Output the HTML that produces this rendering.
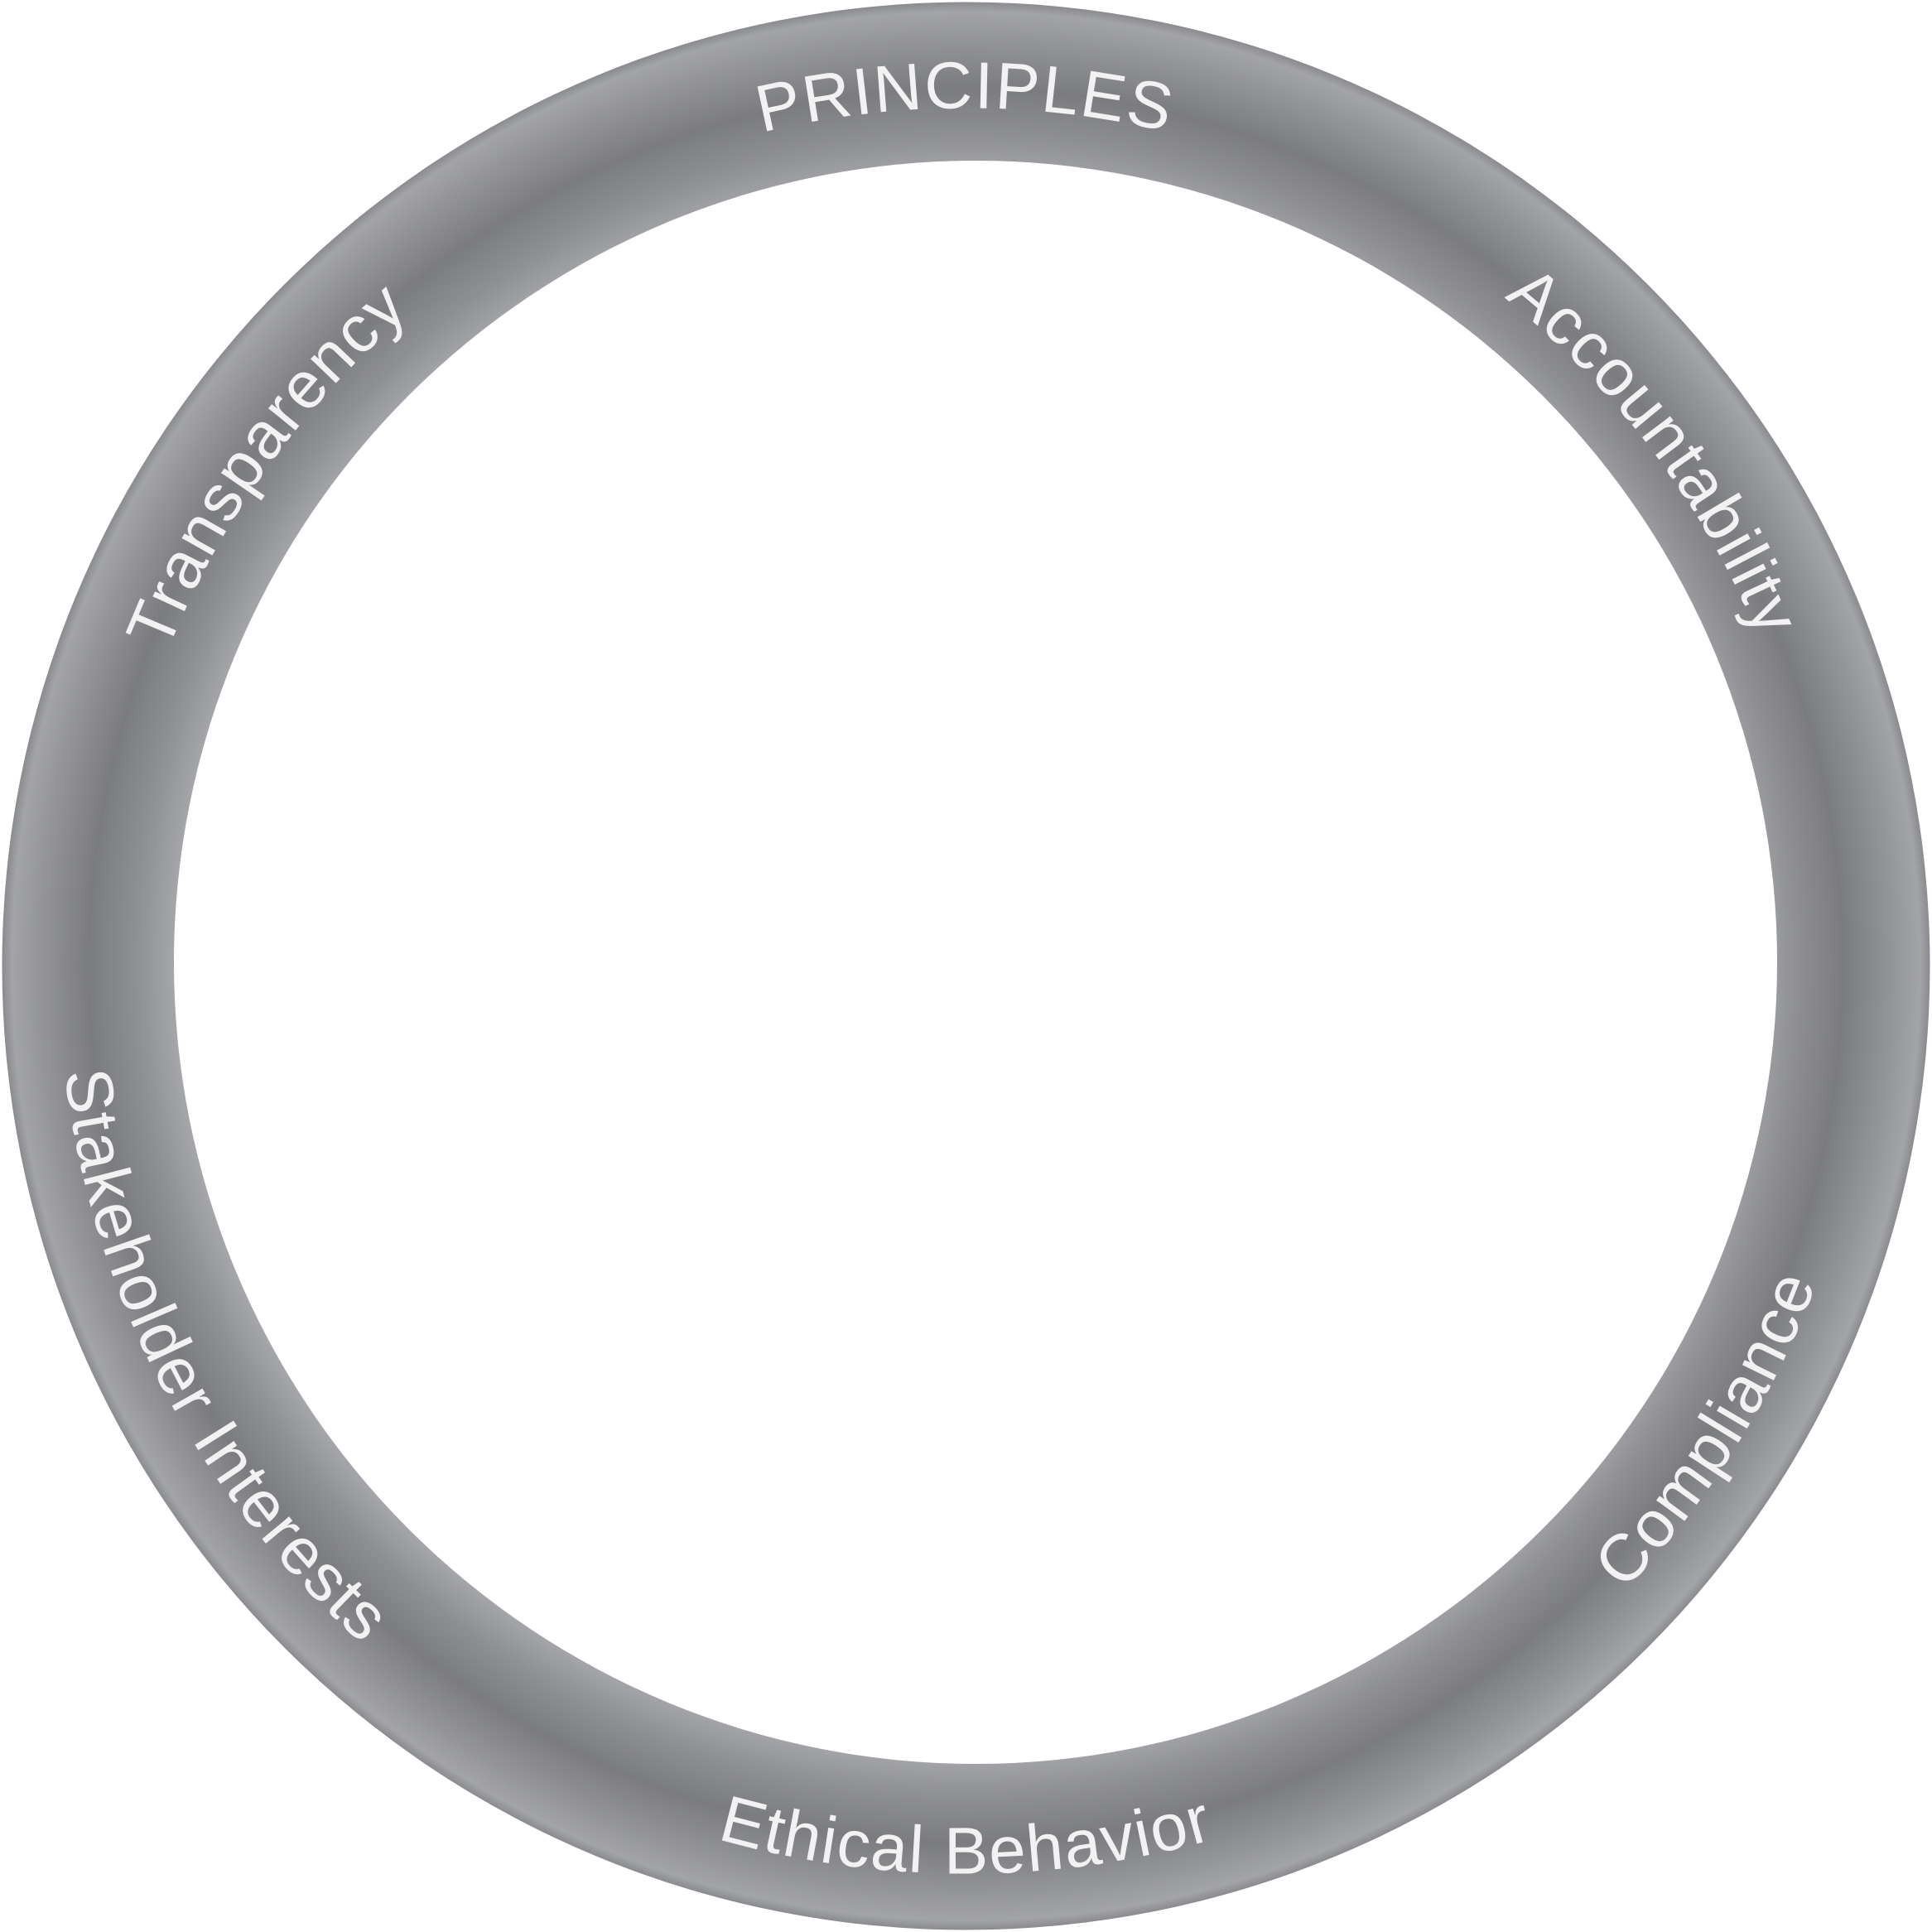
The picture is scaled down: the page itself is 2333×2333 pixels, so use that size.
<!DOCTYPE html>
<html><head><meta charset="utf-8">
<style>
html,body{margin:0;padding:0;background:#fff;}
svg{display:block;}
text{font-family:"Liberation Sans",sans-serif;fill:#f2f2f2;font-size:80px;}
</style></head>
<body>
<svg width="2333" height="2333" viewBox="0 0 2333 2333">
<defs>
<radialGradient id="ringGrad" gradientUnits="userSpaceOnUse" cx="1166.5" cy="1166.5" r="1164">
<stop offset="0" stop-color="#a4a5a9"/>
<stop offset="0.82" stop-color="#a6a7ab"/>
<stop offset="0.86" stop-color="#8f9094"/>
<stop offset="0.91" stop-color="#7b7c80"/>
<stop offset="0.96" stop-color="#939498"/>
<stop offset="0.99" stop-color="#a3a4a8"/>
<stop offset="1" stop-color="#8a8b8f"/>
</radialGradient>
<path id="cwPath" d="M1166.5,2202.5 A1036,1036 0 1 1 1166.5,130.5 A1036,1036 0 1 1 1166.5,2202.5"/>
<path id="ccwPath" d="M1166.5,70.5 A1096,1096 0 1 0 1166.5,2262.5 A1096,1096 0 1 0 1166.5,70.5"/>
</defs>
<circle cx="1166.5" cy="1166.5" r="1164" fill="url(#ringGrad)"/>
<circle cx="1178" cy="1162" r="968" fill="#ffffff"/>
<text text-anchor="middle" letter-spacing="2"><textPath href="#cwPath" startOffset="2271">Transparency</textPath></text>
<text text-anchor="middle" letter-spacing="2"><textPath href="#cwPath" startOffset="3254">PRINCIPLES</textPath></text>
<text text-anchor="middle" letter-spacing="2"><textPath href="#cwPath" startOffset="4218">Accountability</textPath></text>
<text text-anchor="middle" letter-spacing="2"><textPath href="#ccwPath" startOffset="4553">Compliance</textPath></text>
<text text-anchor="middle" letter-spacing="2"><textPath href="#ccwPath" startOffset="3443">Ethical Behavior</textPath></text>
<text text-anchor="middle" letter-spacing="2"><textPath href="#ccwPath" startOffset="2249">Stakeholder Interests</textPath></text>
</svg>
</body></html>
